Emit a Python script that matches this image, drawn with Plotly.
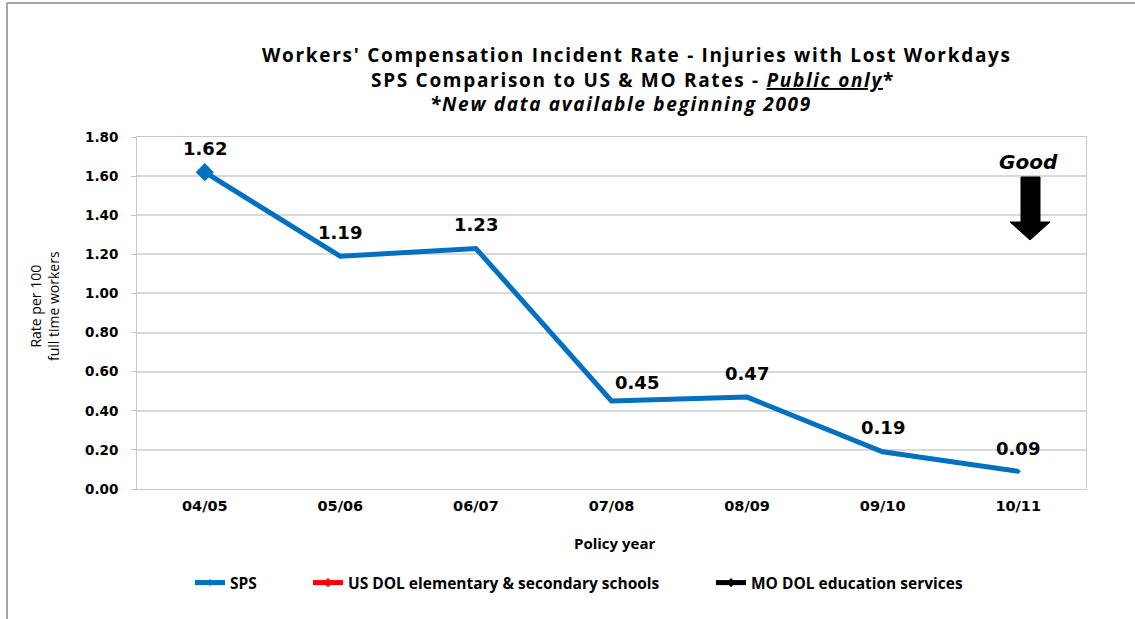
import plotly.graph_objects as go

# ---- data ----
policy_years = ["04/05", "05/06", "06/07", "07/08", "08/09", "09/10", "10/11"]
sps_rates = [1.62, 1.19, 1.23, 0.45, 0.47, 0.19, 0.09]
us_dol_rates = [None, None, None, None, None, None, None]
mo_dol_rates = [None, None, None, None, None, None, None]
y_ticks = [0.0, 0.2, 0.4, 0.6, 0.8, 1.0, 1.2, 1.4, 1.6, 1.8]

# label offsets (style only)
label_xshift = [0, 0, 0, 25, 0, 0, 0]
label_yshift = [24, 24, 24, 19, 24, 24, 23]

W, H = 1135, 619
L, R, T, B = 137, 1086, 137, 489


def px(x):
    return (x - L) / (R - L)


def py(y):
    return (B - y) / (B - T)


BLUE = "#0070C0"
TITLE_FONT = "Open Sans"
NUM_FONT = "DejaVu Sans"

fig = go.Figure()
fig.add_trace(go.Scatter(
    x=policy_years, y=sps_rates, name="SPS", mode="lines+markers",
    line=dict(color=BLUE, width=5),
    marker=dict(symbol="diamond", size=[14, 4, 4, 4, 4, 4, 4], color=BLUE, opacity=1,
                line=dict(width=0)),
    legend="legend",
))
fig.add_trace(go.Scatter(
    x=policy_years, y=us_dol_rates, name="US DOL elementary & secondary schools",
    mode="lines+markers", line=dict(color="#FF0000", width=5),
    marker=dict(symbol="diamond", size=7, color="#FF0000", line=dict(width=0)),
    legend="legend2",
))
fig.add_trace(go.Scatter(
    x=policy_years, y=mo_dol_rates, name="MO DOL education services",
    mode="lines+markers", line=dict(color="#000000", width=5),
    marker=dict(symbol="diamond", size=7, color="#000000", line=dict(width=0)),
    legend="legend3",
))

annotations = []
for cat, val, xs, ys in zip(policy_years, sps_rates, label_xshift, label_yshift):
    annotations.append(dict(
        x=cat, y=val, xref="x", yref="y", text=f"{val:.2f}", showarrow=False,
        xanchor="center", yanchor="middle",
        xshift=xs, yshift=ys, font=dict(family=NUM_FONT, size=18, color="#000000", weight="bold"),
    ))


def txt(x, y, text, family, size, **kw):
    return dict(x=px(x), y=py(y), xref="paper", yref="paper", showarrow=False,
                xanchor="center", yanchor="middle", text=text,
                font=dict(family=family, size=size, color="#000000"), **kw)


LS = "letter-spacing:1.7px"
annotations += [
    txt(637, 55, f"<span style='{LS}'><b>Workers' Compensation Incident Rate - Injuries with Lost Workdays</b></span>", TITLE_FONT, 19),
    txt(633, 80, f"<span style='{LS}'><b>SPS Comparison to US &amp; MO Rates - </b></span>"
                 f"<span style='{LS};text-decoration:underline'><b><i>Public only</i></b></span>"
                 f"<span style='{LS}'><b>*</b></span>", TITLE_FONT, 19),
    txt(621, 104, f"<span style='{LS}'><b><i>*New data available beginning 2009</i></b></span>", TITLE_FONT, 19),
    txt(44, 306, "Rate per 100<br>full time workers", TITLE_FONT, 14, textangle=-90),
    txt(614, 543, "<b>Policy year</b>", TITLE_FONT, 15),
    txt(1028, 162, "<b><i>Good</i></b>", NUM_FONT, 20),
]

shapes = [
    # "Good" arrow
    dict(type="path", xref="paper", yref="paper",
         path=(f"M {px(1021)} {py(177)} L {px(1040)} {py(177)} L {px(1040)} {py(222)} "
               f"L {px(1050)} {py(222)} L {px(1030)} {py(240)} L {px(1010)} {py(222)} "
               f"L {px(1021)} {py(222)} Z"),
         fillcolor="#000000", line=dict(color="#000000", width=1)),
    # outer chart frame (left and top)
    dict(type="line", xref="paper", yref="paper", x0=px(7), x1=px(7), y0=py(3), y1=py(640),
         line=dict(color="#a6a6a6", width=2)),
    dict(type="line", xref="paper", yref="paper", x0=px(7), x1=px(1160), y0=py(3), y1=py(3),
         line=dict(color="#a6a6a6", width=2)),
]

leg_font = dict(family=TITLE_FONT, size=15.5, color="#000000", weight="bold")
leg_common = dict(orientation="h", xanchor="left", yanchor="middle", y=py(583),
                  font=leg_font, bgcolor="rgba(0,0,0,0)", borderwidth=0)

fig.update_layout(
    width=W, height=H,
    margin=dict(l=L, r=W - R, t=T, b=H - B, pad=0),
    paper_bgcolor="#ffffff", plot_bgcolor="#ffffff",
    showlegend=True,
    legend=dict(x=px(190), **leg_common),
    legend2=dict(x=px(308), **leg_common),
    legend3=dict(x=px(711), **leg_common),
    xaxis=dict(type="category", range=[-0.5, 6.5], showgrid=False,
               showline=True, linecolor="#c8c8c8", linewidth=1, mirror=True,
               ticks="", ticklabelstandoff=4,
               tickfont=dict(family=NUM_FONT, size=14.5, color="#000000", weight="bold")),
    yaxis=dict(range=[0, 1.8], tickvals=y_ticks, tickformat=".2f",
               showgrid=True, gridcolor="#d9d9d9", gridwidth=1.5,
               showline=True, linecolor="#c8c8c8", linewidth=1, mirror=True,
               ticks="outside", ticklen=5, tickcolor="#c8c8c8",
               ticklabelstandoff=10, zeroline=False,
               tickfont=dict(family=NUM_FONT, size=13.5, color="#000000", weight="bold")),
    annotations=annotations,
    shapes=shapes,
)

fig.write_html("out.html", config={"displayModeBar": False},
               post_script="document.body.style.margin='0';document.body.style.overflow='hidden';")
